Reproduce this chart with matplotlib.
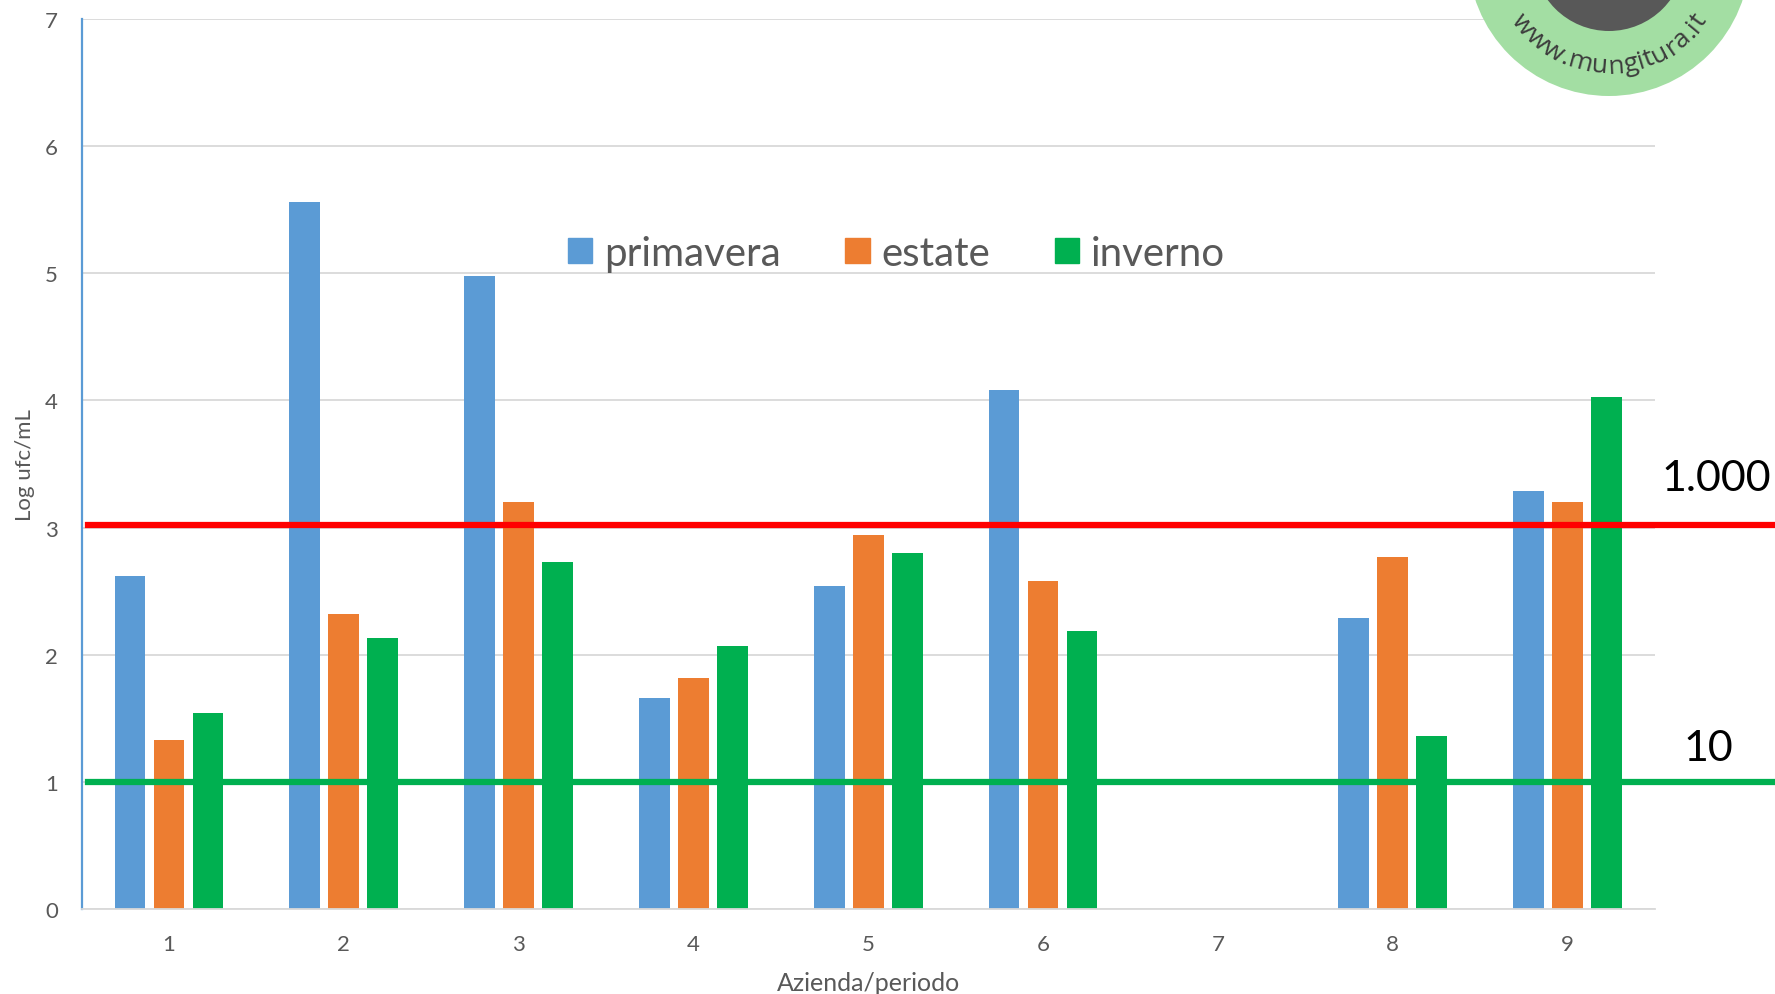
import numpy as np
import matplotlib
matplotlib.use("Agg")
import matplotlib.pyplot as plt
from matplotlib.patches import Patch, Circle
from matplotlib.font_manager import FontProperties

plt.rcParams['font.family'] = ['Lato', 'DejaVu Sans']

aziende = ['1', '2', '3', '4', '5', '6', '7', '8', '9']
primavera = [2.62, 5.56, 4.98, 1.66, 2.54, 4.08, np.nan, 2.29, 3.29]
estate = [1.33, 2.32, 3.20, 1.82, 2.94, 2.58, np.nan, 2.77, 3.20]
inverno = [1.54, 2.13, 2.73, 2.07, 2.80, 2.19, np.nan, 1.36, 4.03]
soglie = [3.02, 1.0]
soglie_label = ['1.000', '10']

BLUE = '#5B9BD5'
ORANGE = '#ED7D31'
GREEN = '#00B050'
GREY_TXT = '#595959'

W, H = 1775, 995
fig = plt.figure(figsize=(W / 100, H / 100), dpi=100)
ax = fig.add_axes([81.5 / W, 85 / H, (1655 - 81.5) / W, 890 / H])

x = np.arange(len(aziende))
bw = 0.175
step = 0.223
ax.bar(x - step, primavera, bw, color=BLUE, zorder=2, label='primavera')
ax.bar(x, estate, bw, color=ORANGE, zorder=2, label='estate')
ax.bar(x + step, inverno, bw, color=GREEN, zorder=2, label='inverno')

ax.set_xlim(-0.5, len(aziende) - 0.5)
ax.set_ylim(0, 7)
ax.set_yticks(range(8))
ax.set_xticks(x)
ax.set_xticklabels(aziende)
ax.tick_params(length=0, labelsize=16, labelcolor=GREY_TXT)
ax.tick_params(axis='y', pad=17)
ax.tick_params(axis='x', pad=18)
ax.grid(axis='y', color='#D9D9D9', linewidth=1.3, zorder=0)
ax.set_axisbelow(True)
for s in ['top', 'right']:
    ax.spines[s].set_visible(False)
ax.spines['left'].set_color(BLUE)
ax.spines['left'].set_linewidth(1.6)
ax.spines['bottom'].set_color('#D9D9D9')
ax.spines['bottom'].set_linewidth(1.3)

ax.set_xlabel('Azienda/periodo', fontsize=18, color=GREY_TXT, labelpad=12)
ax.set_ylabel('Log ufc/mL', fontsize=16, color=GREY_TXT, labelpad=7)

# threshold lines run past the plot to the right edge of the figure
xmax = (W - 81.5) / (1655 - 81.5)
ax.axhline(soglie[0], xmin=0.004, xmax=xmax, color='#FF0000', linewidth=4.5,
           clip_on=False, zorder=4)
ax.axhline(soglie[1], xmin=0.004, xmax=xmax, color=GREEN, linewidth=4.5,
           clip_on=False, zorder=4)
ax.text(1.039, soglie[0] + 0.37, soglie_label[0], transform=ax.get_yaxis_transform(),
        ha='center', va='center', fontsize=31, color='black', clip_on=False)
ax.text(1.034, soglie[1] + 0.27, soglie_label[1], transform=ax.get_yaxis_transform(),
        ha='center', va='center', fontsize=31, color='black', clip_on=False)

handles = [Patch(color=BLUE), Patch(color=ORANGE), Patch(color=GREEN)]
ax.legend(handles, ['primavera', 'estate', 'inverno'], loc='center',
          bbox_to_anchor=(0.518, 0.737), ncol=3, frameon=False, fontsize=29,
          labelcolor=GREY_TXT, handlelength=0.6, handleheight=0.6,
          handletextpad=0.3, columnspacing=1.6)

# logo in the top right corner, drawn in pixel coordinates
lg = fig.add_axes([0, 0, 1, 1], zorder=10)
lg.set_xlim(0, W)
lg.set_ylim(H, 0)
lg.axis('off')
cx, cy = 1609, -44
lg.add_patch(Circle((cx, cy), 141, color='#A3DEA3', lw=0))
lg.add_patch(Circle((cx, cy), 76, color='#585858', lw=0))

testo = 'www.mungitura.it'
fp = FontProperties(family='Open Sans', size=19)
renderer = fig.canvas.get_renderer()
rad = 111
widths = []
for ch in testo:
    w, _, _ = renderer.get_text_width_height_descent(ch, fp, ismath=False)
    widths.append(w)
tot = sum(widths)
ang = -tot / rad / 2
for ch, w in zip(testo, widths):
    a = ang + w / (2 * rad)
    # angle 0 points straight down from the centre
    px = cx + rad * np.sin(a)
    py = cy + rad * np.cos(a)
    lg.text(px, py, ch, fontproperties=fp, color='#3C3C3C', ha='center',
            va='center', rotation=np.degrees(a), rotation_mode='anchor')
    ang += w / rad

fig.savefig('out.png', dpi=100)
